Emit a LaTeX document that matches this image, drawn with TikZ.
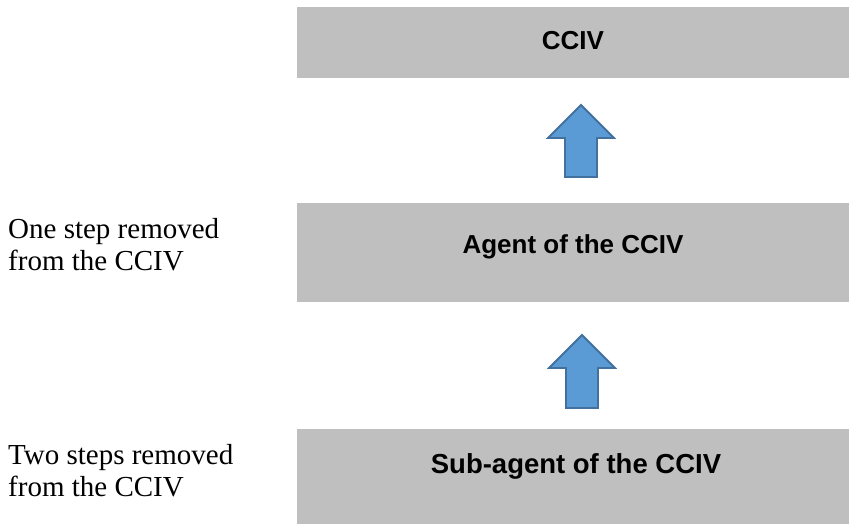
\documentclass[tikz,border=0pt]{standalone}
\usepackage{fontspec}
\setmainfont{Liberation Serif}
\newfontfamily\boxfont{Liberation Sans}
\begin{document}
\begin{tikzpicture}[x=1pt,y=1pt,
  boxtext/.style={font=\boxfont\bfseries\fontsize{26}{30}\selectfont, anchor=base, inner sep=0pt},
  sidetext/.style={font=\fontsize{29}{32}\selectfont, anchor=base west, inner sep=0pt},
  blockarrow/.style={fill=arrowblue, draw=arrowedge, line width=1.8pt, line join=miter}]
\definecolor{boxgray}{HTML}{BFBFBF}
\definecolor{arrowblue}{HTML}{5B9BD5}
\definecolor{arrowedge}{HTML}{41719C}
\useasboundingbox (0,0) rectangle (849,524);
% boxes
\fill[boxgray] (297,517) rectangle (849,446);
\fill[boxgray] (297,321) rectangle (849,222);
\fill[boxgray] (297,95) rectangle (849,0);
\node[boxtext] (ccivt) at (573,474) {CCIV};
\node[boxtext] (agentt) at (573,270) {Agent of the CCIV};
\node[boxtext, font=\boxfont\bfseries\fontsize{27.5}{30}\selectfont] (subt) at (576,50) {Sub-agent of the CCIV};
% side labels
\node[sidetext] (one1) at (8,285) {One step removed};
\node[sidetext] (one2) at (8,253) {from the CCIV};
\node[sidetext] (two1) at (8,59) {Two steps removed};
\node[sidetext] (two2) at (8,27) {from the CCIV};
% block arrows
\draw[blockarrow] (581,419) -- (614,386) -- (597,386) -- (597,347) -- (565,347) -- (565,386) -- (548,386) -- cycle;
\draw[blockarrow] (582,189) -- (615,156) -- (598,156) -- (598,116) -- (566,116) -- (566,156) -- (549,156) -- cycle;
\end{tikzpicture}
\end{document}
